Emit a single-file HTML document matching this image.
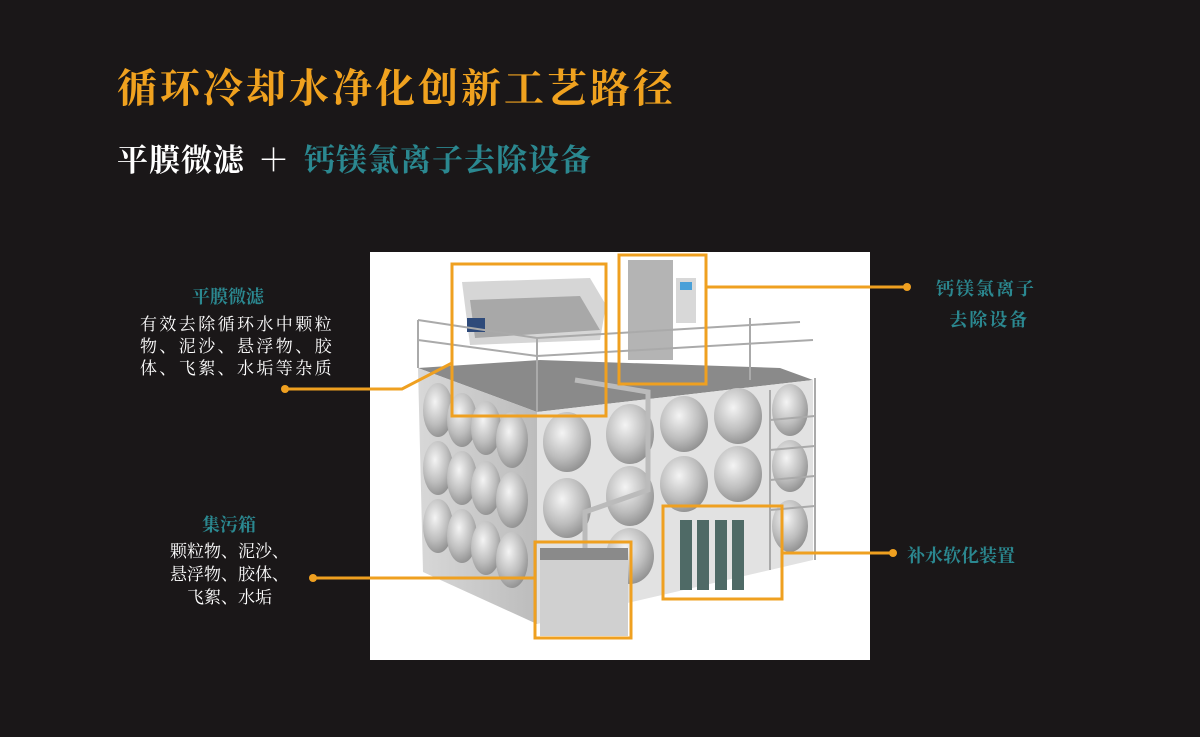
<!DOCTYPE html>
<html><head><meta charset="utf-8"><style>
body{margin:0;width:1200px;height:737px;background:#1a1718;overflow:hidden;position:relative;font-family:"Liberation Serif","Noto Serif CJK SC",serif;}
.t{position:absolute;white-space:nowrap;font-weight:bold;}
</style></head><body>
<div class="t" style="left:117px;top:57px;font-size:40px;color:#f0a21f;letter-spacing:3px;">循环冷却水净化创新工艺路径</div>
<div class="t" style="left:117px;top:135px;font-size:31px;color:#fff;letter-spacing:1px;">平膜微滤</div>
<div class="t" style="left:258px;top:135px;font-size:31px;color:#fff;">＋</div>
<div class="t" style="left:304px;top:135px;font-size:31px;color:#2b8890;letter-spacing:1px;">钙镁氯离子去除设备</div>

<svg style="position:absolute;left:0;top:0" width="1200" height="737">
<rect x="370" y="252" width="500" height="408" fill="#fff"/>
<defs>
<radialGradient id="g" cx="0.4" cy="0.35" r="0.7"><stop offset="0" stop-color="#f4f4f4"/><stop offset="0.6" stop-color="#bdbdbd"/><stop offset="1" stop-color="#8d8d8d"/></radialGradient>
<linearGradient id="lf" x1="0" x2="1"><stop offset="0" stop-color="#d8d8d8"/><stop offset="1" stop-color="#bcbcbc"/></linearGradient>
</defs>
<polygon points="418,368 537,412 813,380 780,368 540,360" fill="#8a8a8a"/>
<polygon points="418,368 537,412 537,624 423,572" fill="url(#lf)"/>
<polygon points="537,412 813,380 813,560 537,624" fill="#e2e2e2"/>
<g fill="url(#g)">
<ellipse cx="438" cy="410" rx="15" ry="27"/><ellipse cx="462" cy="420" rx="15" ry="27"/><ellipse cx="486" cy="428" rx="15" ry="27"/><ellipse cx="512" cy="440" rx="16" ry="28"/>
<ellipse cx="438" cy="468" rx="15" ry="27"/><ellipse cx="462" cy="478" rx="15" ry="27"/><ellipse cx="486" cy="488" rx="15" ry="27"/><ellipse cx="512" cy="500" rx="16" ry="28"/>
<ellipse cx="438" cy="526" rx="15" ry="27"/><ellipse cx="462" cy="536" rx="15" ry="27"/><ellipse cx="486" cy="548" rx="15" ry="27"/><ellipse cx="512" cy="560" rx="16" ry="28"/>
<ellipse cx="567" cy="442" rx="24" ry="30"/><ellipse cx="630" cy="434" rx="24" ry="30"/><ellipse cx="684" cy="424" rx="24" ry="28"/><ellipse cx="738" cy="416" rx="24" ry="28"/><ellipse cx="790" cy="410" rx="18" ry="26"/>
<ellipse cx="567" cy="508" rx="24" ry="30"/><ellipse cx="630" cy="496" rx="24" ry="30"/><ellipse cx="684" cy="484" rx="24" ry="28"/><ellipse cx="738" cy="474" rx="24" ry="28"/><ellipse cx="790" cy="466" rx="18" ry="26"/>
<ellipse cx="630" cy="556" rx="24" ry="28"/><ellipse cx="790" cy="526" rx="18" ry="26"/>
</g>
<polygon points="462,282 590,278 606,305 600,340 470,345" fill="#d6d6d6"/>
<polygon points="470,300 580,296 600,330 475,338" fill="#a8a8a8"/>
<rect x="467" y="318" width="18" height="14" fill="#2e4a7a"/>
<rect x="628" y="260" width="45" height="100" fill="#b4b4b4"/>
<rect x="676" y="278" width="20" height="45" fill="#d8d8d8"/>
<rect x="680" y="282" width="12" height="8" fill="#4aa0d8"/>
<g stroke="#aaa" stroke-width="2" fill="none">
<polyline points="418,320 537,338 800,322"/><polyline points="418,340 537,356 813,340"/>
<line x1="418" y1="320" x2="418" y2="368"/><line x1="537" y1="338" x2="537" y2="412"/><line x1="750" y1="318" x2="750" y2="380"/>
<line x1="770" y1="390" x2="770" y2="570"/><line x1="815" y1="378" x2="815" y2="560"/>
<line x1="770" y1="420" x2="815" y2="416"/><line x1="770" y1="450" x2="815" y2="446"/><line x1="770" y1="480" x2="815" y2="476"/><line x1="770" y1="510" x2="815" y2="506"/>
</g>
<polyline points="575,380 648,392 648,490 585,512 585,548" stroke="#bbb" stroke-width="5" fill="none"/>
<rect x="540" y="548" width="88" height="88" fill="#d0d0d0"/><rect x="540" y="548" width="88" height="12" fill="#8a8a8a"/>
<g fill="#4f6a66"><rect x="680" y="520" width="12" height="70"/><rect x="697" y="520" width="12" height="70"/><rect x="715" y="520" width="12" height="70"/><rect x="732" y="520" width="12" height="70"/></g>
<g stroke="#efa020" stroke-width="3" fill="none">
<rect x="452" y="264" width="154" height="152"/>
<rect x="619" y="255" width="87" height="129"/>
<rect x="535" y="542" width="96" height="96"/>
<rect x="663" y="506" width="119" height="93"/>
<polyline points="452,363 402,389 285,389"/>
<line x1="706" y1="287" x2="907" y2="287"/>
<line x1="535" y1="578" x2="313" y2="578"/>
<line x1="782" y1="553" x2="893" y2="553"/>
</g>
<g fill="#efa020"><circle cx="285" cy="389" r="4"/><circle cx="907" cy="287" r="4"/><circle cx="313" cy="578" r="4"/><circle cx="893" cy="553" r="4"/></g>
</svg>

<div class="t" style="left:192px;top:283px;font-size:18px;color:#2b8890;">平膜微滤</div>
<div class="t" style="left:140px;top:314px;font-size:17px;color:#fff;font-weight:normal;line-height:22px;letter-spacing:2.4px;">有效去除循环水中颗粒<br>物、泥沙、悬浮物、胶<br>体、飞絮、水垢等杂质</div>
<div class="t" style="left:202px;top:511px;font-size:18px;color:#2b8890;">集污箱</div>
<div class="t" style="left:170px;top:540px;font-size:17px;color:#fff;font-weight:normal;line-height:23px;text-align:center;">颗粒物、泥沙、<br>悬浮物、胶体、<br>飞絮、水垢</div>
<div class="t" style="left:936px;top:274px;font-size:18px;color:#2b8890;text-align:center;line-height:31px;letter-spacing:2px;">钙镁氯离子<br>&nbsp;去除设备</div>
<div class="t" style="left:907px;top:542px;font-size:18px;color:#2b8890;">补水软化装置</div>
</body></html>
